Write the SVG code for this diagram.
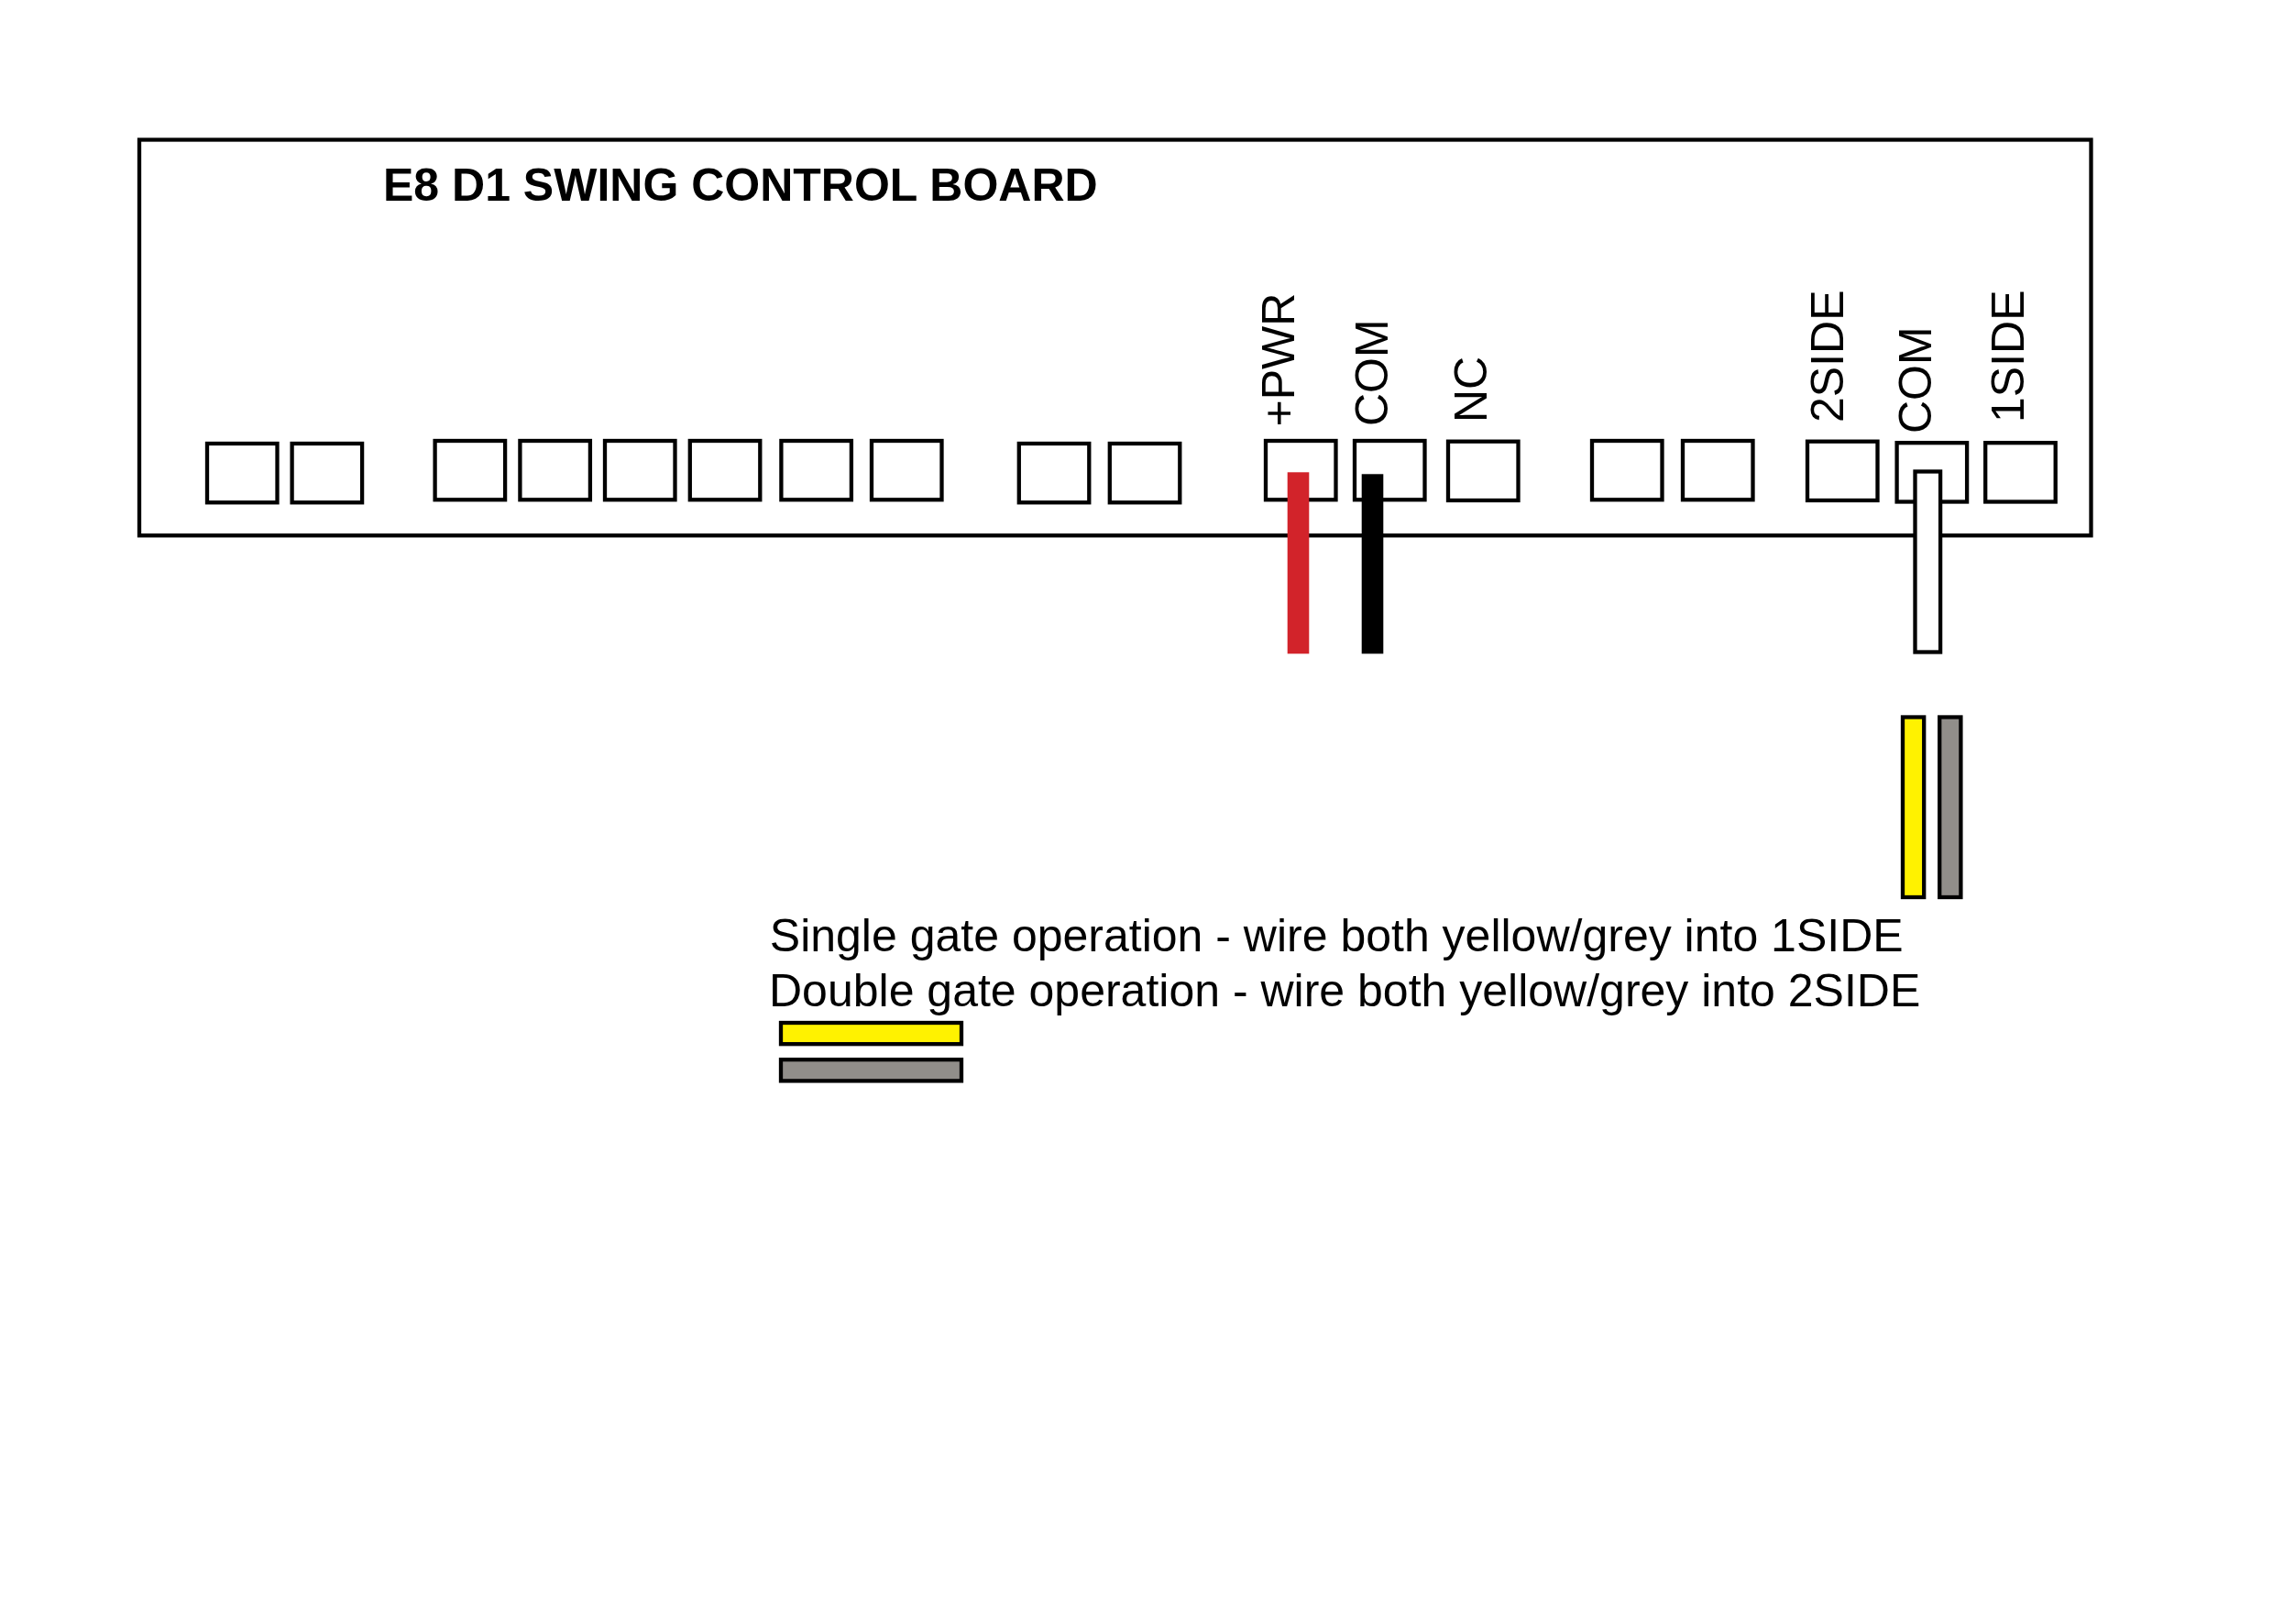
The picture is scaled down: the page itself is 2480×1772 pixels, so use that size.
<svg xmlns="http://www.w3.org/2000/svg" width="2480" height="1772" viewBox="0 0 2480 1772">
<style>
.o{fill:none;stroke:#000;stroke-width:4.3}
.s{width:76.5px;height:64.3px}
.w{fill:#fff;stroke:#000;stroke-width:4.3}
.y{fill:#fff200;stroke:#000;stroke-width:4.3}
.g{fill:#918e8a;stroke:#000;stroke-width:4.3}
text{font-family:"Liberation Sans",Arial,sans-serif;font-size:50px;fill:#000}
.b{font-weight:bold}
</style>
<rect width="2480" height="1772" fill="#fff"/>
<g id="board"><rect class="o" x="152" y="152.5" width="2129.5" height="431.8"/><text class="b" x="418" y="219">E8 D1 SWING CONTROL BOARD</text></g>
<g id="sockets">
<rect class="o s" x="226" y="484"/>
<rect class="o s" x="318.6" y="484"/>
<rect class="o s" x="474.6" y="481"/>
<rect class="o s" x="567.4" y="481"/>
<rect class="o s" x="660" y="481"/>
<rect class="o s" x="752.8" y="481"/>
<rect class="o s" x="852.4" y="481"/>
<rect class="o s" x="951" y="481"/>
<rect class="o s" x="1111.8" y="484"/>
<rect class="o s" x="1210.8" y="484"/>
<rect class="o s" x="1381" y="481"/>
<rect class="o s" x="1478" y="481"/>
<rect class="o s" x="1580" y="481.7"/>
<rect class="o s" x="1737" y="481"/>
<rect class="o s" x="1836" y="481"/>
<rect class="o s" x="1972" y="481.7"/>
<rect class="o s" x="2069.6" y="483.2"/>
<rect class="o s" x="2166.2" y="483.2"/>
</g>
<g id="labels">
<text transform="translate(1412.2,465.5) rotate(-90)">+PWR</text>
<text transform="translate(1514,465) rotate(-90)">COM</text>
<text transform="translate(1622,461) rotate(-90)">NC</text>
<text transform="translate(2011,461) rotate(-90)">2SIDE</text>
<text transform="translate(2106.5,473) rotate(-90)">COM</text>
<text transform="translate(2208,461) rotate(-90)">1SIDE</text>
</g>
<g id="connectors">
<rect x="1404.7" y="515.3" width="23.6" height="198" fill="#d2232a"/>
<rect x="1485.7" y="517.3" width="23.6" height="196" fill="#000"/>
<rect class="w" x="2089.5" y="514.5" width="27.6" height="197"/>
<rect class="y" x="2076" y="782.5" width="23.2" height="196.5"/>
<rect class="g" x="2116.2" y="782.5" width="23.2" height="196.5"/>
</g>
<g id="notes">
<text x="839.8" y="1038">Single gate operation - wire both yellow/grey into 1SIDE</text>
<text x="839" y="1098">Double gate operation - wire both yellow/grey into 2SIDE</text>
<rect class="y" x="852" y="1116" width="197" height="23.2"/>
<rect class="g" x="852" y="1156.2" width="197" height="23.2"/>
</g>
</svg>
